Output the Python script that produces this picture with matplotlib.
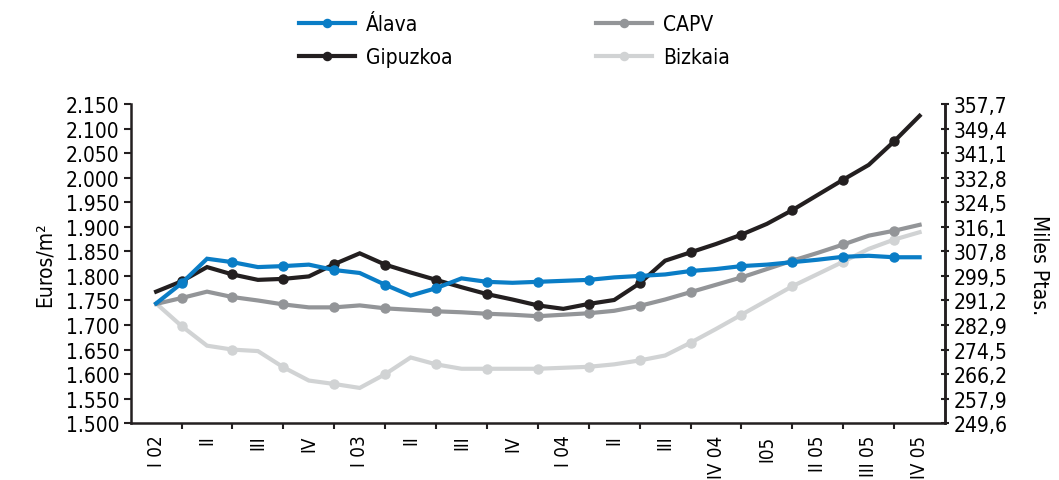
import numpy as np
import matplotlib
matplotlib.use("Agg")
import matplotlib.pyplot as plt
from matplotlib import font_manager as fm

# fuente estrecha si existe
nombres = {f.name for f in fm.fontManager.ttflist}
if "Liberation Sans Narrow" in nombres:
    plt.rcParams["font.family"] = "Liberation Sans Narrow"
else:
    plt.rcParams["font.family"] = "DejaVu Sans"
    plt.rcParams["font.stretch"] = "condensed"

# Datos (euros/m2), dos valores por trimestre
trimestres = ["I 02", "II", "III", "IV", "I 03", "II", "III", "IV",
              "I 04", "II", "III", "IV 04", "I05", "II 05", "III 05", "IV 05"]

alava = [1.744, 1.785, 1.835, 1.828, 1.818, 1.820, 1.823, 1.812, 1.806,
         1.782, 1.760, 1.775, 1.795, 1.788, 1.786, 1.788, 1.790, 1.792, 1.797, 1.800,
         1.803, 1.810, 1.814, 1.820, 1.823, 1.828, 1.833, 1.839, 1.841, 1.838, 1.838]
gipuzkoa = [1.768, 1.789, 1.818, 1.803, 1.792, 1.794, 1.799, 1.824, 1.846,
            1.823, 1.807, 1.792, 1.777, 1.763, 1.752, 1.740, 1.733, 1.743, 1.751, 1.785,
            1.831, 1.848, 1.865, 1.884, 1.906, 1.934, 1.965, 1.996, 2.026, 2.074, 2.126]
capv = [1.743, 1.755, 1.768, 1.757, 1.750, 1.742, 1.736, 1.736, 1.740,
        1.734, 1.731, 1.728, 1.726, 1.723, 1.721, 1.718, 1.721, 1.724, 1.729, 1.739,
        1.752, 1.767, 1.782, 1.797, 1.814, 1.831, 1.847, 1.864, 1.882, 1.892, 1.904]
bizkaia = [1.744, 1.698, 1.658, 1.650, 1.647, 1.614, 1.587, 1.580, 1.572,
           1.600, 1.634, 1.620, 1.611, 1.611, 1.611, 1.611, 1.613, 1.615, 1.620, 1.628,
           1.638, 1.664, 1.692, 1.721, 1.750, 1.779, 1.804, 1.829, 1.855, 1.874, 1.889]

euros_ticks = [1.50, 1.55, 1.60, 1.65, 1.70, 1.75, 1.80, 1.85, 1.90, 1.95, 2.00, 2.05, 2.10, 2.15]
euros_labels = ["1.500", "1.550", "1.600", "1.650", "1.700", "1.750", "1.800",
                "1.850", "1.900", "1.950", "2.000", "2.050", "2.100", "2.150"]
ptas_labels = ["249,6", "257,9", "266,2", "274,5", "282,9", "291,2", "299,5",
               "307,8", "316,1", "324,5", "332,8", "341,1", "349,4", "357,7"]

c_alava = "#0a7dc6"
c_gipuzkoa = "#231f20"
c_capv = "#939598"
c_bizkaia = "#d1d3d4"
c_eje = "#231f20"
fs = 15

x = np.arange(len(alava)) * 0.5

fig = plt.figure(figsize=(10.59, 4.81), dpi=100)
ax = fig.add_axes([0.1234, 0.1179, 0.7690, 0.6638])

estilo = dict(lw=3.0, marker="o", ms=6.5, markevery=slice(1, None, 2), solid_joinstyle="miter")
l_biz, = ax.plot(x, bizkaia, color=c_bizkaia, label="Bizkaia", **estilo)
l_capv, = ax.plot(x, capv, color=c_capv, label="CAPV", **estilo)
l_gip, = ax.plot(x, gipuzkoa, color=c_gipuzkoa, label="Gipuzkoa", **estilo)
l_ala, = ax.plot(x, alava, color=c_alava, label="Álava", **estilo)

ax.set_xlim(-0.5, len(trimestres) - 0.5)
ax.set_ylim(1.5, 2.15)

# ticks entre categorias, etiquetas en el centro
ax.set_xticks(np.arange(0.5, len(trimestres) - 0.5, 1))
ax.set_xticklabels([])
ax.set_xticks(np.arange(len(trimestres)), minor=True)
ax.set_xticklabels(trimestres, minor=True, rotation=90, fontsize=13.5)
ax.tick_params(axis="x", which="major", length=4, width=1.5, color=c_eje, direction="out")
ax.tick_params(axis="x", which="minor", length=0, pad=8)

ax.set_yticks(euros_ticks)
ax.set_yticklabels(euros_labels, fontsize=fs)
ax.tick_params(axis="y", length=5, width=1.5, color=c_eje, pad=3)
ax.set_ylabel("Euros/m²", fontsize=fs, labelpad=8)

for s in ["left", "bottom", "right"]:
    ax.spines[s].set_linewidth(1.8)
    ax.spines[s].set_color(c_eje)
ax.spines["top"].set_visible(False)

ax2 = ax.twinx()
ax2.set_ylim(ax.get_ylim())
ax2.set_yticks(euros_ticks)
ax2.set_yticklabels(ptas_labels, fontsize=fs)
ax2.tick_params(axis="y", length=6, width=1.5, color=c_eje, direction="inout", pad=3)
ax2.set_ylabel("Miles Ptas.", fontsize=fs, rotation=270, labelpad=30)
for s in ["top", "left", "bottom"]:
    ax2.spines[s].set_visible(False)
ax2.spines["right"].set_linewidth(1.8)
ax2.spines["right"].set_color(c_eje)

fig.legend(handles=[l_ala, l_gip, l_capv, l_biz], ncol=2, loc="upper left",
           bbox_to_anchor=(299 / 1059, 1 - 15 / 481), frameon=False, fontsize=fs,
           handlelength=2.7, handletextpad=0.5, columnspacing=6.9,
           labelspacing=0.62, borderpad=0, borderaxespad=0, markerscale=0.9)

fig.savefig("out.png", dpi=100)
